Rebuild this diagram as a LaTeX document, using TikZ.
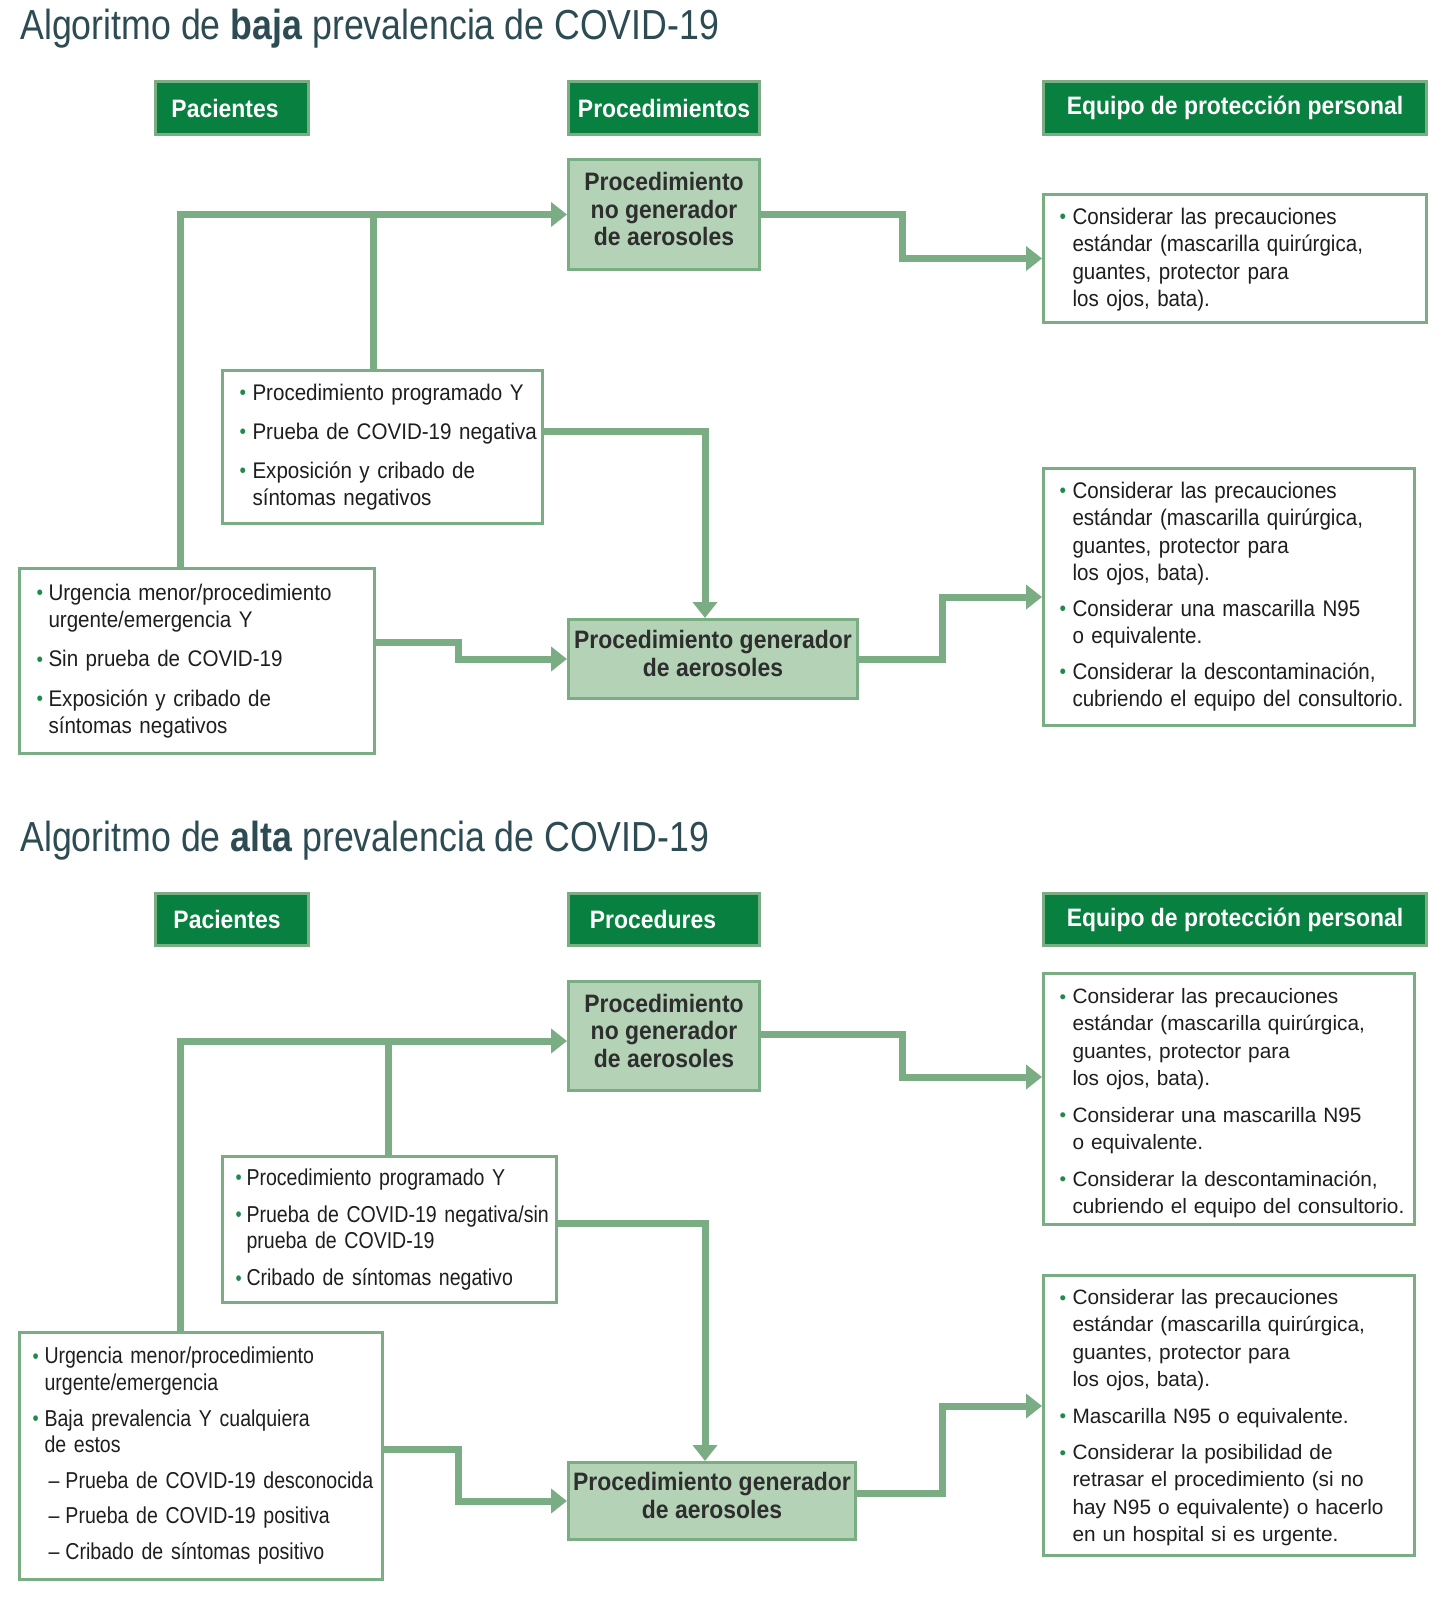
\documentclass[tikz,border=0pt]{standalone}
\usepackage{fontspec}
\setmainfont{Liberation Sans}
\newfontfamily\condA[FakeStretch=0.91]{Liberation Sans}
\newfontfamily\condB[FakeStretch=0.85]{Liberation Sans}
\newfontfamily\headf[FakeStretch=0.91]{Liberation Sans}
\newfontfamily\titlef[FakeStretch=0.85]{Liberation Sans}
\usetikzlibrary{arrows.meta}
\definecolor{lgreen}{HTML}{7BAD85}
\definecolor{boxfill}{HTML}{B3D2B6}
\definecolor{hgreen}{HTML}{08803F}
\definecolor{bgreen}{HTML}{1E8B4C}
\definecolor{titlec}{HTML}{2D4B53}
\definecolor{txt}{HTML}{1E1E1E}
\definecolor{ptxt}{HTML}{2E2E2E}
\newlength\bulleft
\newlength\txtleft
\newlength\dashleft
\newlength\dashtext
\newlength\bgap
\newcommand\setbl[3]{\setlength\parskip{0pt}\setlength\bulleft{#1}\setlength\txtleft{#2}\setlength\bgap{#3}}
\newcommand\bi[1]{\par\noindent\hspace*{\bulleft}\hbox to \dimexpr\txtleft-\bulleft\relax{\textcolor{bgreen}{\raisebox{0.05ex}{\scalebox{0.9}{\textbullet}}}\hss}\mbox{#1}\par}
\newcommand\bc[1]{\par\noindent\hspace*{\txtleft}\mbox{#1}\par}
\newcommand\di[1]{\par\noindent\hspace*{\dashleft}\hbox to \dimexpr\dashtext-\dashleft\relax{–\hss}\mbox{#1}\par}
\newcommand\bs{\par\vspace{\bgap}}
\newcommand\be[1]{\par\vspace{#1}}
\newcommand\lift{\rule[-5.5pt]{0pt}{5.5pt}}
\tikzset{
  conn/.style={draw=lgreen, line width=3.5pt, line join=miter, -{Triangle[length=8pt,width=12pt]}},
  plain/.style={draw=lgreen, line width=3.5pt},
  hdr/.style={anchor=north west, fill=hgreen, draw=lgreen, line width=1.5pt, text=white,
    font=\headf\bfseries\fontsize{12.6}{14}\selectfont, inner sep=0pt, align=center},
  proc/.style={anchor=north west, fill=boxfill, draw=lgreen, line width=1.5pt, text=ptxt,
    font=\headf\bfseries\fontsize{12.6}{13.75}\selectfont, inner sep=0pt, align=center},
  tbox/.style={anchor=north west, fill=white, draw=lgreen, line width=1.5pt, text=txt,
    inner xsep=0pt, inner ysep=1pt, align=left},
  tA/.style={tbox, font=\condA\fontsize{11.3}{13.75}\selectfont},
  tB/.style={tbox, font=\condB\fontsize{11.5}{13.4}\selectfont},
  tR/.style={tbox, font=\rmfamily\fontsize{10.4}{13.6}\selectfont},
  ttl/.style={anchor=base west, inner sep=0pt, text=titlec, font=\titlef\fontsize{21}{25}\selectfont},
}
\begin{document}
\begin{tikzpicture}[x=0.5pt,y=-0.5pt]
\useasboundingbox[fill=white] (0,0) rectangle (1448,1600);
% ---------- top section ----------
\node[ttl] (t1) at (20,40) {Algoritmo de \textbf{baja} prevalencia de COVID-19};
\node[hdr, minimum width=76.5pt, minimum height=26.5pt] (hp1) at (154,80) {Pacientes\hspace*{7pt}};
\node[hdr, minimum width=95.5pt, minimum height=26.5pt] (hr1) at (567,80) {Procedimientos};
\node[hdr, minimum width=191.5pt, minimum height=26.5pt] (he1) at (1042,80) {Equipo de protección personal};
\node[proc, minimum width=95.5pt, minimum height=55pt] (ng1) at (567,158) {Procedimiento\\no generador\\de aerosoles\lift};
\node[proc, minimum width=144.5pt, minimum height=39.5pt] (g1) at (567,618) {Procedimiento generador\\de aerosoles\lift};
\node[tA, minimum width=191.5pt, minimum height=64pt, text width=191.5pt] (e1) at (1042,193) {\setbl{8pt}{14.5pt}{4.1pt}%
\bi{Considerar las precauciones}\bc{estándar (mascarilla quirúrgica,}\bc{guantes, protector para}\bc{los ojos, bata).}\be{4.5pt}};
\node[tA, minimum width=160pt, minimum height=76.5pt, text width=160pt] (p1) at (221,369) {\setbl{8.5pt}{15pt}{5.7pt}%
\bi{Procedimiento programado Y}\bs\bi{Prueba de COVID-19 negativa}\bs\bi{Exposición y cribado de}\bc{síntomas negativos}\be{5.5pt}};
\node[tA, minimum width=177.5pt, minimum height=92.5pt, text width=177.5pt] (u1) at (18,567) {\setbl{8.5pt}{14.5pt}{5.8pt}%
\bi{Urgencia menor/procedimiento}\bc{urgente/emergencia Y}\bs\bi{Sin prueba de COVID-19}\bs\bi{Exposición y cribado de}\bc{síntomas negativos}\be{5.5pt}};
\node[tA, minimum width=185.5pt, minimum height=125.5pt, text width=185.5pt] (e2) at (1042,467) {\setbl{8pt}{14.5pt}{4.1pt}%
\bi{Considerar las precauciones}\bc{estándar (mascarilla quirúrgica,}\bc{guantes, protector para}\bc{los ojos, bata).}\bs
\bi{Considerar una mascarilla N95}\bc{o equivalente.}\bs
\bi{Considerar la descontaminación,}\bc{cubriendo el equipo del consultorio.}\be{6pt}};
\draw[conn] (180,0 |- u1.north) |- (ng1.west);
\draw[plain] (373,0 |- p1.north) -- (373,0 |- ng1.west);
\draw[conn] (ng1.east) -- (902,0 |- ng1.east) |- (e1.west);
\draw[conn] (p1.east |- 0,431) -| (705,0 |- g1.north);
\draw[conn] (u1.east |- 0,642) -- (458,642) |- (g1.west);
\draw[conn] (g1.east) -- (942,0 |- g1.east) |- (e2.west);
% ---------- bottom section ----------
\node[ttl] (t2) at (20,851) {Algoritmo de \textbf{alta} prevalencia de COVID-19};
\node[hdr, minimum width=76.5pt, minimum height=26pt] (hp2) at (154,892) {Pacientes\hspace*{5pt}};
\node[hdr, minimum width=95.5pt, minimum height=26pt] (hr2) at (567,892) {Procedures\hspace*{11pt}};
\node[hdr, minimum width=191.5pt, minimum height=26pt] (he2) at (1042,892) {Equipo de protección personal};
\node[proc, minimum width=95.5pt, minimum height=54.5pt] (ng2) at (567,980) {Procedimiento\\no generador\\de aerosoles\lift};
\node[proc, minimum width=143.5pt, minimum height=38.5pt] (g2) at (567,1461) {Procedimiento generador\\de aerosoles\lift};
\node[tR, minimum width=185.5pt, minimum height=125.5pt, text width=185.5pt] (e3) at (1042,972) {\setbl{8pt}{14.5pt}{4.8pt}%
\bi{Considerar las precauciones}\bc{estándar (mascarilla quirúrgica,}\bc{guantes, protector para}\bc{los ojos, bata).}\bs
\bi{Considerar una mascarilla N95}\bc{o equivalente.}\bs
\bi{Considerar la descontaminación,}\bc{cubriendo el equipo del consultorio.}\be{2pt}};
\node[tB, minimum width=167pt, minimum height=68pt, text width=167pt] (p2) at (221,1155) {\setbl{6.5pt}{12pt}{5pt}%
\bi{Procedimiento programado Y}\bs\bi{Prueba de COVID-19 negativa/sin}\bc{prueba de COVID-19}\bs\bi{Cribado de síntomas negativo}\be{5pt}};
\node[tB, minimum width=181.5pt, minimum height=123.5pt, text width=181.5pt] (u2) at (18,1331) {\setbl{6.5pt}{12.5pt}{4.3pt}\setlength\dashleft{14.5pt}\setlength\dashtext{23pt}%
\bi{Urgencia menor/procedimiento}\bc{urgente/emergencia}\bs
\bi{Baja prevalencia Y cualquiera}\bc{de estos}\bs
\di{Prueba de COVID-19 desconocida}\bs\di{Prueba de COVID-19 positiva}\bs\di{Cribado de síntomas positivo}\be{5.5pt}};
\node[tR, minimum width=185.5pt, minimum height=140pt, text width=185.5pt] (e4) at (1042,1274) {\setbl{8pt}{14.5pt}{4.75pt}%
\bi{Considerar las precauciones}\bc{estándar (mascarilla quirúrgica,}\bc{guantes, protector para}\bc{los ojos, bata).}\bs
\bi{Mascarilla N95 o equivalente.}\bs
\bi{Considerar la posibilidad de}\bc{retrasar el procedimiento (si no}\bc{hay N95 o equivalente) o hacerlo}\bc{en un hospital si es urgente.}\be{4pt}};
\draw[conn] (180,0 |- u2.north) |- (ng2.west |- 0,1041);
\draw[plain] (388,0 |- p2.north) -- (388,1041);
\draw[conn] (ng2.east |- 0,1034) -- (902,1034) |- (e3.west |- 0,1077);
\draw[conn] (p2.east |- 0,1223) -| (705,0 |- g2.north);
\draw[conn] (u2.east |- 0,1449) -- (458,1449) |- (g2.west);
\draw[conn] (g2.east |- 0,1493) -- (942,1493) |- (e4.west |- 0,1406);
\end{tikzpicture}
\end{document}
